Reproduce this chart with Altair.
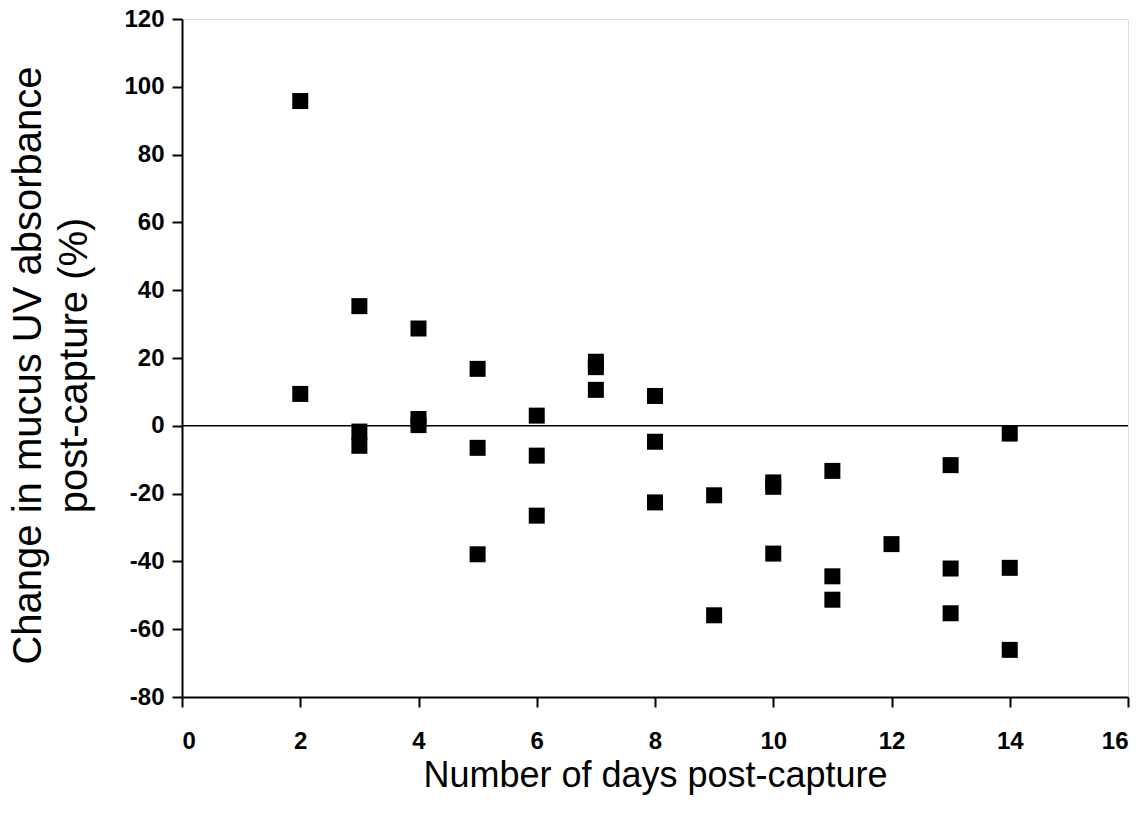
import altair as alt
import pandas as pd

days = [2, 2,
        3, 3, 3,
        4, 4, 4,
        5, 5, 5,
        6, 6, 6,
        7, 7, 7,
        8, 8, 8,
        9, 9,
        10, 10, 10,
        11, 11, 11,
        12,
        13, 13, 13,
        14, 14, 14]
change = [95.8, 9.4,
          35.3, -1.7, -5.9,
          28.7, 2.0, 0.2,
          16.8, -6.5, -37.9,
          3.0, -8.8, -26.5,
          18.9, 17.3, 10.6,
          8.8, -4.7, -22.6,
          -20.5, -55.9,
          -16.7, -18.0, -37.7,
          -13.3, -44.4, -51.3,
          -34.9,
          -11.6, -42.1, -55.3,
          -2.3, -41.9, -66.1]

x_ticks = [0, 2, 4, 6, 8, 10, 12, 14, 16]
y_ticks = [-80, -60, -40, -20, 0, 20, 40, 60, 80, 100, 120]

df = pd.DataFrame({"day": days, "change": change})
zero = pd.DataFrame({"y": [0]})

FONT = "Liberation Sans"

x_enc = alt.X(
    "day:Q",
    scale=alt.Scale(domain=[0, 16], nice=False, zero=False),
    axis=alt.Axis(
        values=x_ticks,
        labelExpr="datum.value + ''",
        title="Number of days post-capture",
        titleFont=FONT,
        titleFontSize=36,
        titleFontWeight="normal",
        titleColor="black",
        titleX=473,
        titleY=89,
        titleAlign="center",
        titleBaseline="alphabetic",
        labelFont=FONT,
        labelFontSize=24,
        labelFontWeight="bold",
        labelColor="black",
        labelPadding=22,
        tickSize=10,
        tickWidth=2,
        tickColor="black",
        domainColor="black",
        domainWidth=2,
        grid=False,
    ),
)

y_enc = alt.Y(
    "change:Q",
    scale=alt.Scale(domain=[-80, 120], nice=False, zero=False),
    axis=alt.Axis(
        values=y_ticks,
        labelExpr="datum.value + ''",
        title=["Change in mucus UV absorbance", "post-capture (%)"],
        titleFont=FONT,
        titleFontSize=40,
        titleFontWeight="normal",
        titleColor="black",
        titleAngle=-90,
        titleX=-142,
        titleY=346,
        titleAlign="center",
        titleBaseline="alphabetic",
        titleLineHeight=46,
        labelFont=FONT,
        labelFontSize=24,
        labelFontWeight="bold",
        labelColor="black",
        labelPadding=8,
        tickSize=10,
        tickWidth=2,
        tickColor="black",
        domainColor="black",
        domainWidth=2,
        grid=False,
    ),
)

points = alt.Chart(df).mark_square(size=256, color="black", opacity=1).encode(
    x=x_enc,
    y=y_enc,
)

zero_line = alt.Chart(zero).mark_rule(color="black", strokeWidth=1.5).encode(
    y=alt.Y("y:Q", scale=alt.Scale(domain=[-80, 120], nice=False, zero=False)),
)

chart = (
    alt.layer(zero_line, points)
    .properties(
        width=946,
        height=678,
        autosize=alt.AutoSizeParams(type="none"),
        padding={"left": 174, "top": 11, "right": 10, "bottom": 109},
    )
    .configure_view(stroke=None)
    .configure(background="white")
)

chart.save("out.html", embed_options={"renderer": "svg", "actions": False})
